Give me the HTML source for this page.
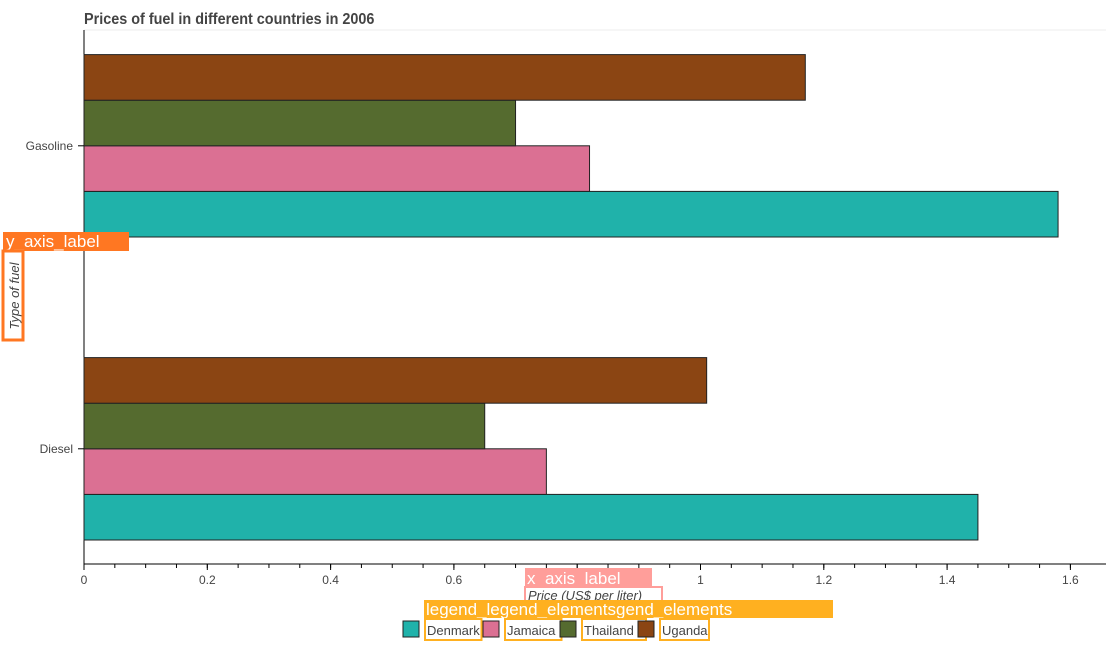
<!DOCTYPE html>
<html><head><meta charset="utf-8"><style>
body{margin:0;background:#fff;width:1106px;height:650px;overflow:hidden;font-family:"Liberation Sans",sans-serif}
</style></head><body>
<svg id="chart" width="1106" height="650" font-family="Liberation Sans, sans-serif">
<text x="84" y="24" font-size="16" fill="#444" font-weight="bold" transform="scale(0.9,1)" transform-origin="84 24">Prices of fuel in different countries in 2006</text>
<line x1="84" y1="30" x2="1106" y2="30" stroke="#eee"/>
<line x1="84" y1="30" x2="84" y2="564" stroke="#000"/>
<line x1="84" y1="564" x2="1106" y2="564" stroke="#000"/>
<g id="bars"></g><g id="xt"></g><g id="yt"></g>
<rect x="3" y="232" width="126" height="19" fill="#ff7722"/>
<text x="6" y="247" font-size="17" fill="#fff">y_axis_label</text>
<rect x="3" y="251" width="20" height="89" fill="none" stroke="#ff7722" stroke-width="3"/>
<text transform="translate(19,296) rotate(-90)" text-anchor="middle" font-size="13" font-style="italic" fill="#444">Type of fuel</text>
<rect x="525" y="568" width="127" height="19" fill="#ff9e9a"/>
<text x="527" y="584" font-size="17" fill="#fff">x_axis_label</text>
<rect x="525" y="587" width="137" height="14" fill="#fff" stroke="#ff9e9a" stroke-width="2"/>
<text x="528" y="600" font-size="13" font-style="italic" fill="#444">Price (US$ per liter)</text>
<rect x="424" y="600" width="409" height="18" fill="#ffb020"/>
<text x="426" y="615" font-size="17" fill="#fff">legend_legend_elementsgend_elements</text>
<g id="legend"></g>
</svg>
<script>
const categories=["Diesel","Gasoline"];
const countries=["Denmark","Jamaica","Thailand","Uganda"];
const denmark=[1.45,1.58];
const jamaica=[0.75,0.82];
const thailand=[0.65,0.70];
const uganda=[1.01,1.17];
const xTicks=[0,0.2,0.4,0.6,0.8,1,1.2,1.4,1.6];
const xTickLabels=["0","0.2","0.4","0.6","0.8","1","1.2","1.4","1.6"];
const colors=["#20b2aa","#db7093","#556b2f","#8b4513"];
const series=[denmark,jamaica,thailand,uganda];
const NS="http://www.w3.org/2000/svg";
const x=v=>84+v*616.5;
const groupBottom=[540,237];
const bh=45.6;
function mk(t,a,p){const e=document.createElementNS(NS,t);for(const k in a)e.setAttribute(k,a[k]);p.appendChild(e);return e;}
const bars=document.getElementById('bars');
categories.forEach((c,ci)=>{series.forEach((s,si)=>{
 const r=mk('rect',{x:84,y:groupBottom[ci]-(si+1)*bh,width:x(s[ci])-84,height:bh,fill:colors[si],stroke:'#222','stroke-width':1},bars);
 
 
});
 const yt=document.getElementById('yt');
 const cy=groupBottom[ci]-2*bh;
 mk('line',{x1:78,y1:cy,x2:84,y2:cy,stroke:'#000'},yt);
 const t=mk('text',{x:73,y:cy+4,'text-anchor':'end','font-size':12,fill:'#444'},yt);t.textContent=c;
 
 
});
const xt=document.getElementById('xt');
for(let v=0;v<=1.65;v+=0.05){const px=x(v);mk('line',{x1:px,y1:564,x2:px,y2:568,stroke:'#000'},xt);}
xTicks.forEach((v,i)=>{mk('line',{x1:x(v),y1:564,x2:x(v),y2:570,stroke:'#000'},xt);
 const t=mk('text',{x:x(v),y:584,'text-anchor':'middle','font-size':12,fill:'#444'},xt);t.textContent=xTickLabels[i];
 
 });
const lg=document.getElementById('legend');
const lx=[403,483,560,638];
countries.forEach((c,i)=>{
 const r=mk('rect',{x:lx[i],y:621,width:16,height:16,fill:colors[i],stroke:'#222'},lg);
 
 
 mk('rect',{x:lx[i]+22,y:619,width:c.length*7.5+4,height:21,fill:'none',stroke:'#ffb020','stroke-width':2},lg);
 const t=mk('text',{x:lx[i]+24,y:635,'font-size':13,fill:'#444'},lg);t.textContent=c;
 
 
});
</script>
</body></html>
